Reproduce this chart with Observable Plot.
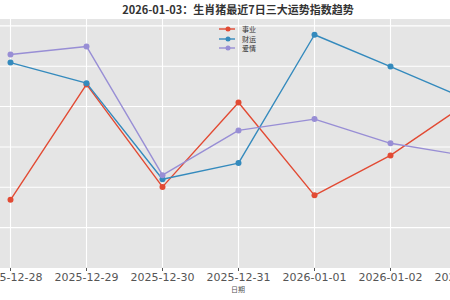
<!DOCTYPE html>
<html>
<head>
<meta charset="utf-8">
<script src="https://cdn.jsdelivr.net/npm/d3@7"></script>
<script src="https://cdn.jsdelivr.net/npm/@observablehq/plot@0.6"></script>
<style>
  html, body { margin: 0; padding: 0; background: #fff; }
  #wrap { position: relative; width: 450px; height: 300px; overflow: hidden; background: #fff;
          font-family: "DejaVu Sans", "Noto Sans CJK SC", sans-serif; }
  #chart { position: absolute; left: -72.84px; top: 0; width: 600px; height: 300px; }
  #chart svg { max-width: none !important; width: 600px; height: 300px; }
  #title { position: absolute; top: 2px; left: 0; width: 476px; text-align: center;
           font-family: "Noto Sans CJK SC", sans-serif; font-size: 11px; font-weight: 700; color: #333; line-height: 14px; }
  #xlabel { position: absolute; top: 283px; left: 0; width: 476px; text-align: center;
            font-family: "Noto Sans CJK SC", sans-serif; font-size: 7px; color: #555; line-height: 12px; }
  #legend { position: absolute; left: 219px; top: 24px; font-family: "Noto Sans CJK SC", sans-serif;
            font-size: 7px; color: #333; }
  .item { display: flex; align-items: center; height: 9.7px; }
  .item svg { margin-right: 7px; }
</style>
</head>
<body>
<div id="wrap">
  <div id="chart"></div>
  <div id="title"></div>
  <div id="xlabel"></div>
  <div id="legend"></div>
</div>
<script>
const titleText = "2026-01-03：生肖猪最近7日三大运势指数趋势";
const xLabelText = "日期";
const dates = ["2025-12-28","2025-12-29","2025-12-30","2025-12-31","2026-01-01","2026-01-02","2026-01-03"];
const seriesNames = ["事业","财运","爱情"];
const career = [56.9, 85.5, 60.1, 81.0, 58.0, 67.9, 80.7];
const wealth = [90.9, 85.8, 62.0, 66.0, 97.8, 89.9, 81.9];
const love   = [92.9, 94.9, 63.0, 74.1, 76.9, 70.9, 67.8];
const colors = ["#E24A33", "#348ABD", "#988ED5"];
const yGrid = [50, 60, 70, 80, 90, 100];

const seriesValues = [career, wealth, love];
const data = seriesNames.flatMap((s, k) => dates.map((d, i) => ({date: d, value: seriesValues[k][i], series: s})));

const chart = Plot.plot({
  width: 600,
  height: 300,
  marginLeft: 60,
  marginRight: 37.5,
  marginTop: 18.5,
  marginBottom: 32.5,
  style: {background: "transparent", fontFamily: "'DejaVu Sans', 'Noto Sans CJK SC', sans-serif", fontSize: "11px", color: "#555", maxWidth: "none", overflow: "visible"},
  x: {type: "point", domain: dates, padding: 0.3, label: null, tickSize: 3.5, tickPadding: 2},
  y: {domain: [40, 101.7], axis: null},
  color: {domain: seriesNames, range: colors},
  marks: [
    Plot.frame({fill: "#E5E5E5", stroke: "none"}),
    Plot.ruleY(yGrid, {stroke: "white", strokeWidth: 1.1}),
    Plot.ruleX(dates, {stroke: "white", strokeWidth: 1.1}),
    Plot.line(data, {x: "date", y: "value", z: "series", stroke: "series", strokeWidth: 1.4}),
    Plot.dot(data, {x: "date", y: "value", fill: "series", r: 3})
  ]
});
document.getElementById("chart").appendChild(chart);
document.getElementById("title").textContent = titleText;
document.getElementById("xlabel").textContent = xLabelText;

const legend = document.getElementById("legend");
seriesNames.forEach((s, k) => {
  const item = document.createElement("div");
  item.className = "item";
  item.innerHTML = `<svg width="16" height="8"><line x1="0" x2="16" y1="4" y2="4" stroke="${colors[k]}" stroke-width="1.4"/><circle cx="9" cy="4" r="2.5" fill="${colors[k]}"/></svg><span>${s}</span>`;
  legend.appendChild(item);
});
</script>
</body>
</html>
